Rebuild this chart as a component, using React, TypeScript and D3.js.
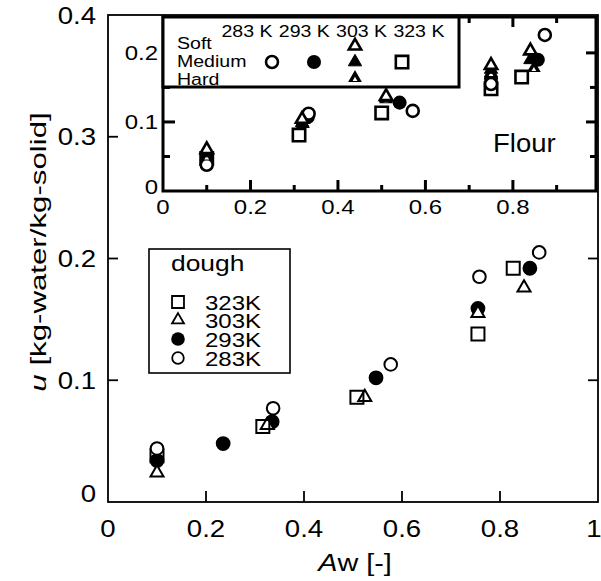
import React from "react";
import * as d3 from "d3";

type Pt = [number, number];

// Dough sorption isotherms, [Aw, u]
const dough323: Pt[] = [[0.1, 0.038], [0.316, 0.062], [0.508, 0.086], [0.755, 0.138], [0.827, 0.192]];
const dough303: Pt[] = [[0.1, 0.024], [0.325, 0.063], [0.524, 0.086], [0.755, 0.155], [0.849, 0.176]];
const dough293: Pt[] = [[0.1, 0.034], [0.235, 0.048], [0.335, 0.066], [0.547, 0.102], [0.755, 0.159], [0.861, 0.192]];
const dough283: Pt[] = [[0.1, 0.044], [0.337, 0.077], [0.577, 0.113], [0.758, 0.185], [0.88, 0.205]];

// Flour sorption isotherms (inset), [Aw, u]
const flour283: Pt[] = [[0.1, 0.038], [0.333, 0.112], [0.571, 0.116], [0.75, 0.155], [0.873, 0.226]];
const flour293: Pt[] = [[0.1, 0.045], [0.331, 0.107], [0.541, 0.128], [0.75, 0.163], [0.857, 0.19]];
const flour323: Pt[] = [[0.1, 0.047], [0.311, 0.081], [0.5, 0.113], [0.75, 0.148], [0.82, 0.165]];
const flour303Soft: Pt[] = [[0.1, 0.06], [0.318, 0.104], [0.51, 0.137], [0.75, 0.182], [0.84, 0.203]];
const flour303Medium: Pt[] = [[0.1, 0.055], [0.318, 0.099], [0.51, 0.135], [0.75, 0.176], [0.84, 0.19]];
const flour303Hard: Pt[] = [[0.1, 0.05], [0.32, 0.097], [0.51, 0.133], [0.75, 0.171], [0.848, 0.178]];

// Axis ticks
const mainXTicks = [0, 0.2, 0.4, 0.6, 0.8, 1];
const mainYTicks = [0, 0.1, 0.2, 0.3, 0.4];
const insetXMajor = [0.2, 0.4, 0.6, 0.8];
const insetXMinor = [0.1, 0.3, 0.5, 0.7, 0.9];
const insetXLabels = [0, 0.2, 0.4, 0.6, 0.8];
const insetYMajor = [0.1, 0.2];
const insetYMinor = [0.05, 0.15];
const insetYLabels = [0, 0.1, 0.2];

const doughLegend = ["323K", "303K", "293K", "283K"];
const flourTemps = ["283 K", "293 K", "303 K", "323 K"];
const flourGrades = ["Soft", "Medium", "Hard"];

const FONT = "'Liberation Sans', Arial, Helvetica, sans-serif";

const fmt = (v: number) => (v === 0 ? "0" : v === 1 ? "1" : v.toFixed(1));

type Kind = "open" | "filled" | "square" | "tri" | "triMed" | "triHard";

const circlePath = (r: number) => d3.symbol().type(d3.symbolCircle).size(Math.PI * r * r)()!;
const squarePath = (s: number) => d3.symbol().type(d3.symbolSquare).size(s * s)()!;
const triPath = (w: number) => {
  const yy = w / (2 * Math.sqrt(3));
  return d3.symbol().type(d3.symbolTriangle).size(3 * Math.sqrt(3) * yy * yy)()!;
};

function Mark({ kind, cx, cy, k = 1, sw = 2 }: { kind: Kind; cx: number; cy: number; k?: number; sw?: number }) {
  const t = `translate(${cx},${cy})`;
  if (kind === "open") return <path transform={t} d={circlePath(6.3 * k)} fill="#fff" stroke="#000" strokeWidth={sw} />;
  if (kind === "filled") return <path transform={t} d={circlePath(7.4 * k)} fill="#000" />;
  if (kind === "square") return <path transform={t} d={squarePath(13 * k)} fill="none" stroke="#000" strokeWidth={sw} />;
  if (kind === "tri") return <path transform={t} d={triPath(13 * k)} fill="#fff" stroke="#000" strokeWidth={sw} strokeLinejoin="miter" />;
  if (kind === "triMed") return <path transform={t} d={triPath(14 * k)} fill="#000" stroke="#000" strokeWidth={1} />;
  return (
    <g transform={t}>
      <path d={triPath(14.5 * k)} fill="#000" />
      <path transform="translate(0,1.6)" d={triPath(5 * k)} fill="#fff" />
    </g>
  );
}

function Txt({ x, y, size, anchor = "start", sx = 1.2, italicHead, children }: any) {
  return (
    <text transform={`translate(${x},${y}) scale(${sx},1)`} fontSize={size} textAnchor={anchor} fontFamily={FONT} fill="#000">
      {italicHead ? <tspan fontStyle="italic">{italicHead}</tspan> : null}
      {children}
    </text>
  );
}

export default function App() {
  // main panel
  const x = d3.scaleLinear().domain([0, 1]).range([108, 598]);
  const y = d3.scaleLinear().domain([0, 0.4]).range([502, 15]);
  // inset panel
  const xi = d3.scaleLinear().domain([0, 0.99]).range([163, 596]);
  const yi = d3.scaleLinear().domain([0, 0.252]).range([191, 17]);

  const mainSeries: { data: Pt[]; kind: Kind }[] = [
    { data: dough293, kind: "filled" },
    { data: dough303, kind: "tri" },
    { data: dough323, kind: "square" },
    { data: dough283, kind: "open" },
  ];
  const insetSeries: { data: Pt[]; kind: Kind }[] = [
    { data: flour293, kind: "filled" },
    { data: flour323, kind: "square" },
    { data: flour283, kind: "open" },
    { data: flour303Hard, kind: "triHard" },
    { data: flour303Medium, kind: "triMed" },
    { data: flour303Soft, kind: "tri" },
  ];

  const legendKinds: Kind[] = ["square", "tri", "filled", "open"];
  const legendRowY = [302, 320, 339, 358];

  return (
    <svg width={601} height={581} style={{ position: "absolute", left: 0, top: 0, background: "#fff" }}>
      <rect x={0} y={0} width={601} height={581} fill="#fff" />

      {/* main frame */}
      <rect x={x(0)} y={y(0.4)} width={x(1) - x(0)} height={y(0) - y(0.4)} fill="none" stroke="#000" strokeWidth={1.8} />
      {mainXTicks.filter((v) => v > 0 && v < 1).map((v) => (
        <line key={"mx" + v} x1={x(v)} x2={x(v)} y1={y(0)} y2={y(0) - 11} stroke="#000" strokeWidth={1.8} />
      ))}
      {mainYTicks.filter((v) => v > 0 && v < 0.4).map((v) => (
        <g key={"my" + v}>
          <line x1={x(0)} x2={x(0) + 10} y1={y(v)} y2={y(v)} stroke="#000" strokeWidth={1.8} />
          <line x1={x(1)} x2={x(1) - 10} y1={y(v)} y2={y(v)} stroke="#000" strokeWidth={1.8} />
        </g>
      ))}
      {mainXTicks.map((v) => (
        <Txt key={"mxl" + v} x={v === 1 ? x(v) - 4 : x(v)} y={537} size={23} anchor="middle">{fmt(v)}</Txt>
      ))}
      {mainYTicks.map((v) => (
        <Txt key={"myl" + v} x={96} y={v === 0 ? y(v) : y(v) + 8.5} size={23} anchor="end">{fmt(v)}</Txt>
      ))}
      <Txt x={355} y={571} size={24} anchor="middle" italicHead="A">w [-]</Txt>
      <text transform="translate(46,252) rotate(-90) scale(1.42,1)" fontSize={22} textAnchor="middle" fontFamily={FONT}>
        <tspan fontStyle="italic">u</tspan>{" [kg-water/kg-solid]"}
      </text>

      {/* main data */}
      {mainSeries.map((s, i) => (
        <g key={"ms" + i}>
          {s.data.map((d, j) => (
            <Mark key={j} kind={s.kind} cx={x(d[0])} cy={y(d[1])} />
          ))}
        </g>
      ))}

      {/* dough legend */}
      <rect x={149} y={249} width={141} height={124} fill="#fff" stroke="#000" strokeWidth={1.6} />
      <Txt x={171} y={271} size={22}>dough</Txt>
      {doughLegend.map((lab, i) => (
        <g key={"dl" + i}>
          <Mark kind={legendKinds[i]} cx={178} cy={legendRowY[i]} k={0.92} sw={1.8} />
          <Txt x={205} y={legendRowY[i] + 7.5} size={20} sx={1.2}>{lab}</Txt>
        </g>
      ))}

      {/* inset panel */}
      <rect x={xi(0)} y={yi(0.252)} width={596 - xi(0)} height={yi(0) - yi(0.252)} fill="#fff" stroke="#000" strokeWidth={3} />
      {insetXMajor.map((v) => (
        <g key={"ixM" + v}>
          <line x1={xi(v)} x2={xi(v)} y1={yi(0)} y2={yi(0) - 11} stroke="#000" strokeWidth={3} />
          <line x1={xi(v)} x2={xi(v)} y1={yi(0.252)} y2={yi(0.252) + 10} stroke="#000" strokeWidth={3} />
        </g>
      ))}
      {insetXMinor.map((v) => (
        <g key={"ixm" + v}>
          <line x1={xi(v)} x2={xi(v)} y1={yi(0)} y2={yi(0) - 6} stroke="#000" strokeWidth={3} />
          <line x1={xi(v)} x2={xi(v)} y1={yi(0.252)} y2={yi(0.252) + 6} stroke="#000" strokeWidth={3} />
        </g>
      ))}
      {insetYMajor.map((v) => (
        <g key={"iyM" + v}>
          <line x1={xi(0)} x2={xi(0) + 12} y1={yi(v)} y2={yi(v)} stroke="#000" strokeWidth={3} />
          <line x1={596} x2={596 - 10} y1={yi(v)} y2={yi(v)} stroke="#000" strokeWidth={3} />
        </g>
      ))}
      {insetYMinor.map((v) => (
        <g key={"iym" + v}>
          <line x1={xi(0)} x2={xi(0) + 7} y1={yi(v)} y2={yi(v)} stroke="#000" strokeWidth={3} />
          <line x1={596} x2={596 - 6} y1={yi(v)} y2={yi(v)} stroke="#000" strokeWidth={3} />
        </g>
      ))}
      {insetXLabels.map((v) => (
        <Txt key={"ixl" + v} x={xi(v)} y={214} size={20} anchor="middle">{fmt(v)}</Txt>
      ))}
      {insetYLabels.map((v) => (
        <Txt key={"iyl" + v} x={158} y={v === 0 ? yi(v) + 3 : yi(v) + 7} size={20} anchor="end">{fmt(v)}</Txt>
      ))}
      <Txt x={493} y={152} size={25} sx={1.1}>Flour</Txt>

      {insetSeries.map((s, i) => (
        <g key={"is" + i}>
          {s.data.map((d, j) => (
            <Mark key={j} kind={s.kind} cx={xi(d[0])} cy={yi(d[1])} k={0.95} sw={2.6} />
          ))}
        </g>
      ))}

      {/* flour legend */}
      <rect x={xi(0)} y={yi(0.252)} width={296} height={70} fill="#fff" stroke="#000" strokeWidth={3} />
      {flourTemps.map((lab, i) => (
        <Txt key={"ft" + i} x={247 + i * 57.3} y={37} size={17} anchor="middle" sx={1.15}>{lab}</Txt>
      ))}
      {flourGrades.map((lab, i) => (
        <Txt key={"fg" + i} x={177} y={49 + i * 18} size={17} sx={1.15}>{lab}</Txt>
      ))}
      <Mark kind="open" cx={272} cy={62} k={0.95} sw={2.6} />
      <Mark kind="filled" cx={314} cy={62} k={0.95} />
      <Mark kind="tri" cx={355} cy={46} k={0.95} sw={2.6} />
      <Mark kind="triMed" cx={355} cy={62} k={0.95} />
      <Mark kind="triHard" cx={355} cy={78} k={0.95} />
      <Mark kind="square" cx={402} cy={62} k={0.95} sw={2.6} />
    </svg>
  );
}
